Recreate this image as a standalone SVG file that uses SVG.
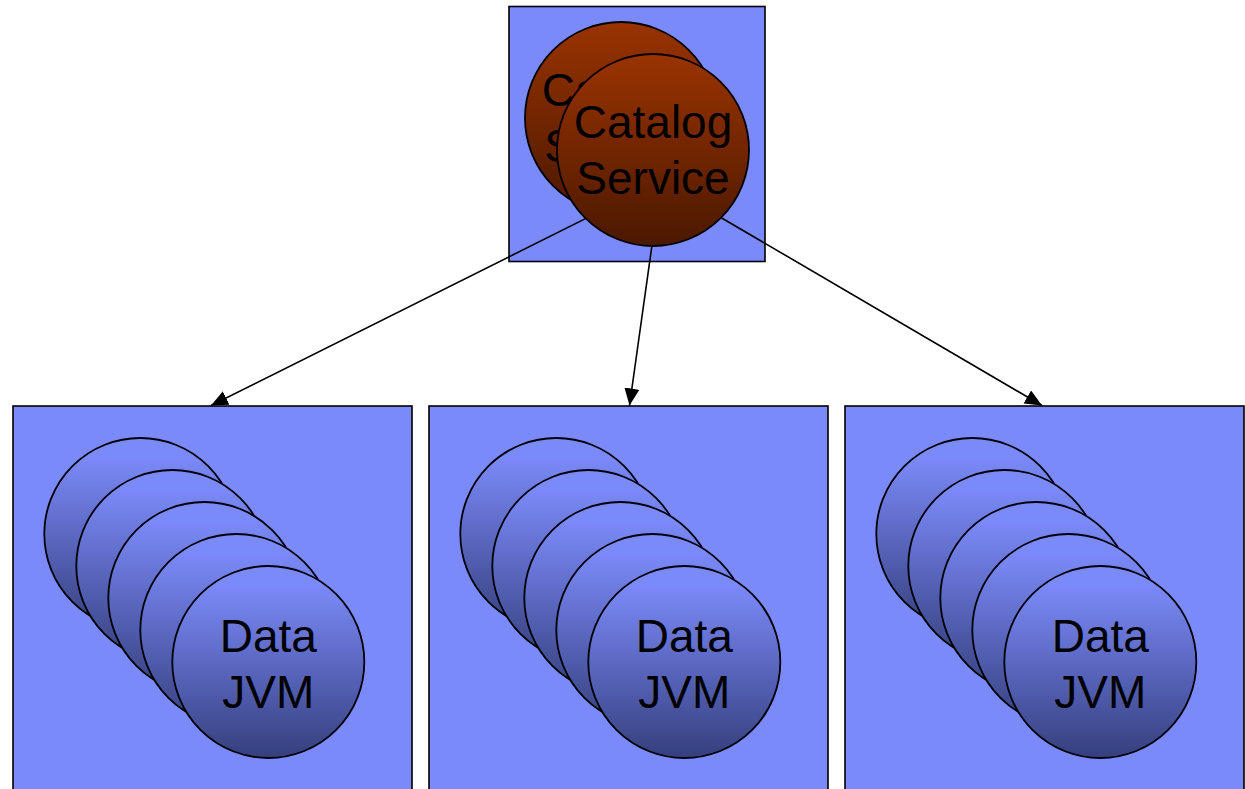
<svg xmlns="http://www.w3.org/2000/svg" width="1245" height="789" viewBox="0 0 1245 789">
<defs>
<linearGradient id="gCat" x1="0" y1="0" x2="0" y2="1">
<stop offset="0" stop-color="#9a3300"/>
<stop offset="1" stop-color="#4a1800"/>
</linearGradient>
<linearGradient id="gJvm" x1="0" y1="0" x2="0" y2="1">
<stop offset="0.1" stop-color="#7b8af9"/>
<stop offset="1" stop-color="#353f7d"/>
</linearGradient>
<marker id="arr" markerUnits="userSpaceOnUse" markerWidth="20" markerHeight="18" refX="17" refY="7.5" orient="auto">
<path d="M0,0 L17,7.5 L0,15 Z" fill="#000"/>
</marker>
<style>
.box{fill:#7b8af9;stroke:#000;stroke-width:1.6}
.cat{fill:url(#gCat);stroke:#000;stroke-width:1.8}
.jvm{fill:url(#gJvm);stroke:#000;stroke-width:1.8}
.lbl{font-family:"Liberation Sans",Arial,sans-serif;font-size:46px;fill:#000;text-anchor:middle}
.conn{stroke:#000;stroke-width:1.6;fill:none}
</style>
</defs>
<rect width="1245" height="789" fill="#fff"/>
<g id="catalog-box"><rect class="box" x="509" y="6.5" width="256" height="255"/></g>
<g id="connectors">
<line class="conn" x1="600" y1="211.4" x2="211" y2="405.5" marker-end="url(#arr)"/>
<line class="conn" x1="653" y1="238" x2="629.5" y2="405.5" marker-end="url(#arr)"/>
<line class="conn" x1="705" y1="208.2" x2="1042" y2="405.5" marker-end="url(#arr)"/>
</g>
<g id="catalog-service">
<circle class="cat" cx="621" cy="118" r="96"/>
<text class="lbl" x="621" y="106">Catalog</text>
<text class="lbl" x="621" y="162">Service</text>
<circle class="cat" cx="653" cy="150" r="96"/>
<text class="lbl" x="653" y="138">Catalog</text>
<text class="lbl" x="653" y="194">Service</text>
</g>
<g id="data-host-1">
<rect class="box" x="13" y="406" width="399" height="400"/>
<circle class="jvm" cx="140.3" cy="534" r="96"/>
<circle class="jvm" cx="172.3" cy="566" r="96"/>
<circle class="jvm" cx="204.3" cy="598" r="96"/>
<circle class="jvm" cx="236.3" cy="630" r="96"/>
<circle class="jvm" cx="268.3" cy="662" r="96"/>
<text class="lbl" x="268.3" y="652">Data</text>
<text class="lbl" x="268.3" y="708">JVM</text>
</g>
<g id="data-host-2">
<rect class="box" x="429" y="406" width="399" height="400"/>
<circle class="jvm" cx="556.3" cy="534" r="96"/>
<circle class="jvm" cx="588.3" cy="566" r="96"/>
<circle class="jvm" cx="620.3" cy="598" r="96"/>
<circle class="jvm" cx="652.3" cy="630" r="96"/>
<circle class="jvm" cx="684.3" cy="662" r="96"/>
<text class="lbl" x="684.3" y="652">Data</text>
<text class="lbl" x="684.3" y="708">JVM</text>
</g>
<g id="data-host-3">
<rect class="box" x="845" y="406" width="399" height="400"/>
<circle class="jvm" cx="972.3" cy="534" r="96"/>
<circle class="jvm" cx="1004.3" cy="566" r="96"/>
<circle class="jvm" cx="1036.3" cy="598" r="96"/>
<circle class="jvm" cx="1068.3" cy="630" r="96"/>
<circle class="jvm" cx="1100.3" cy="662" r="96"/>
<text class="lbl" x="1100.3" y="652">Data</text>
<text class="lbl" x="1100.3" y="708">JVM</text>
</g>
</svg>
